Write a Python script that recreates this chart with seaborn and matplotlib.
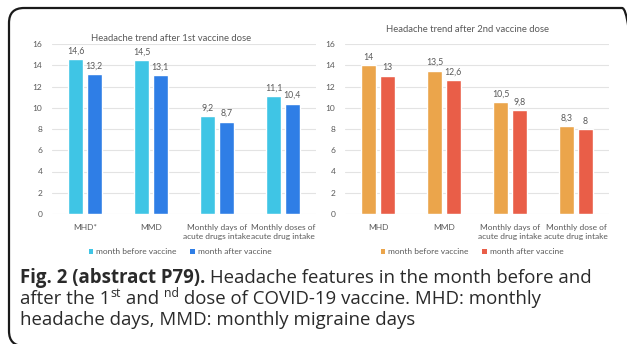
import matplotlib
matplotlib.use("Agg")
import matplotlib.pyplot as plt
from matplotlib.patches import FancyBboxPatch, Patch
from matplotlib.transforms import IdentityTransform
import seaborn as sns
import pandas as pd

# ---- data -------------------------------------------------------------
series_names = ["month before vaccine", "month after vaccine"]

dose1_title = "Headache trend after 1st vaccine dose"
dose1_categories = ["MHD*", "MMD", "Monthly days of\nacute drugs intake",
                    "Monthly doses of\nacute drug intake"]
dose1_before = [14.6, 14.5, 9.2, 11.1]
dose1_after = [13.2, 13.1, 8.7, 10.4]
dose1_colors = ["#3FC5E5", "#2F7EE6"]

dose2_title = "Headache trend after 2nd vaccine dose"
dose2_categories = ["MHD", "MMD", "Monthly days of\nacute drug intake",
                    "Monthly dose of\nacute drug intake"]
dose2_before = [14.0, 13.5, 10.5, 8.3]
dose2_after = [13.0, 12.6, 9.8, 8.0]
dose2_colors = ["#EBA54B", "#E95E48"]

y_ticks = [0, 2, 4, 6, 8, 10, 12, 14, 16]

# ---- figure -----------------------------------------------------------
W, H = 627, 344
sns.set_theme(style="white")
plt.rcParams["font.family"] = ["Lato", "DejaVu Sans"]
TXT = "#595959"

fig = plt.figure(figsize=(W / 100, H / 100), dpi=100)
fig.patch.set_facecolor("white")


def fmt(v):
    s = f"{v:.1f}"
    if s.endswith(".0"):
        s = s[:-2]
    return s.replace(".", ",")


def panel(left_px, cats, before, after, colors, title, title_x, title_pad,
          legend_x):
    ax = fig.add_axes([left_px / W, (H - 214) / H, 264 / W, 170 / H])
    df = pd.DataFrame({
        "category": cats * 2,
        "value": before + after,
        "series": [series_names[0]] * len(cats) + [series_names[1]] * len(cats),
    })
    sns.barplot(data=df, x="category", y="value", hue="series",
                order=cats, hue_order=series_names, palette=colors,
                width=0.56, gap=0.19, ax=ax, legend=False, errorbar=None,
                saturation=1)
    for cont in ax.containers:
        vals = [b.get_height() for b in cont]
        ax.bar_label(cont, labels=[fmt(v) for v in vals], padding=2.5,
                     fontsize=6.3, color=TXT)
    ax.set_ylim(0, 16)
    ax.set_xlim(-0.5, len(cats) - 0.5)
    ax.set_yticks(y_ticks)
    ax.yaxis.grid(True, color="#E3E3E3", linewidth=0.8)
    ax.set_axisbelow(True)
    for s in ax.spines.values():
        s.set_visible(False)
    ax.tick_params(axis="both", length=0, labelsize=6.0, colors=TXT)
    ax.tick_params(axis="y", pad=7)
    ax.tick_params(axis="x", pad=7)
    for lbl in ax.get_xticklabels():
        lbl.set_linespacing(1.35)
    ax.set_xlabel("")
    ax.set_ylabel("")
    ax.set_title(title, fontsize=6.8, color=TXT, pad=title_pad,
                 x=(title_x - left_px) / 264)
    handles = [Patch(facecolor=c, edgecolor="none") for c in colors]
    ax.legend(handles, series_names, loc="center", ncol=2, frameon=False,
              bbox_to_anchor=(legend_x / W, (H - 252) / H),
              bbox_transform=fig.transFigure,
              fontsize=6.0, labelcolor=TXT, handlelength=0.55,
              handleheight=0.55, handletextpad=0.35, columnspacing=1.6)
    return ax


panel(52, dose1_categories, dose1_before, dose1_after, dose1_colors,
      dose1_title, 171, 2.5, 180)
panel(345, dose2_categories, dose2_before, dose2_after, dose2_colors,
      dose2_title, 468, 9, 472)

# ---- caption ----------------------------------------------------------
renderer = fig.canvas.get_renderer()
CAP_FONT = ["Open Sans", "DejaVu Sans"]
CAP_SIZE = 13.4


def run_line(x_px, base_px, pieces):
    x = x_px
    for text, weight, sup in pieces:
        size = CAP_SIZE * (0.66 if sup else 1.0)
        y = base_px - (CAP_SIZE * 0.55 if sup else 0)
        t = fig.text(x / W, (H - y) / H, text, fontsize=size,
                     fontweight=weight, family=CAP_FONT, color="#2A2A2A",
                     va="baseline", ha="left")
        x += t.get_window_extent(renderer).width
    return x


run_line(20, 283, [("Fig. 2 (abstract P79).", "bold", False),
                   (" Headache features in the month before and", "normal", False)])
run_line(20, 304, [("after the 1", "normal", False), ("st", "normal", True),
                   (" and ", "normal", False), ("nd", "normal", True),
                   (" dose of COVID-19 vaccine. MHD: monthly", "normal", False)])
run_line(20, 325, [("headache days, MMD: monthly migraine days", "normal", False)])

# ---- rounded frame ----------------------------------------------------
frame = FancyBboxPatch((9, -2), 628, 338, boxstyle="round,pad=0,rounding_size=15",
                       transform=IdentityTransform(), facecolor="none",
                       edgecolor="#1A1A1A", linewidth=1.6)
fig.add_artist(frame)

fig.savefig("out.png", dpi=100)
